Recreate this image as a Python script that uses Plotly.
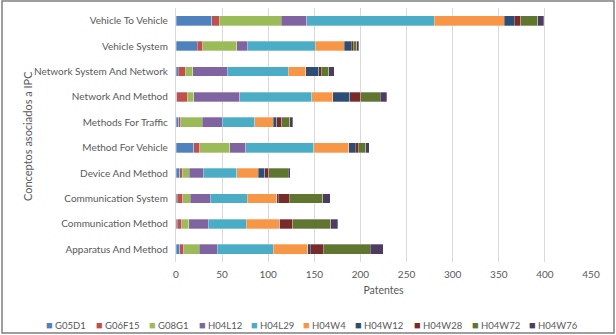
import plotly.graph_objects as go

categories = ["Apparatus And Method", "Communication Method", "Communication System",
              "Device And Method", "Method For Vehicle", "Methods For Traffic",
              "Network And Method", "Network System And Network", "Vehicle System",
              "Vehicle To Vehicle"]

G05D1  = [4, 1.5, 1.5, 4, 19.5, 3, 1, 2.5, 23, 39]
G06F15 = [4.5, 4.5, 5.7, 3, 6, 2.4, 11, 7.5, 6, 8]
G08G1  = [16.6, 8, 8.3, 7.6, 33, 23, 7, 8, 37, 67]
H04L12 = [19.5, 21, 21.7, 15, 17, 22, 50, 37.6, 11, 28]
H04L29 = [61, 41, 40, 36, 74, 35, 78, 66, 74, 138]
H04W4  = [37, 36, 31.8, 23.5, 37.6, 20, 23, 19, 31.5, 76]
H04W12 = [3, 0.6, 2, 7, 7, 4, 18.5, 14.4, 7.6, 11]
H04W28 = [14, 14, 12, 4.3, 3.6, 5.4, 12, 2.5, 2, 7]
H04W72 = [51, 41, 36, 21.4, 8, 8.7, 21, 8, 4, 18.5]
H04W76 = [14, 8, 8, 2, 4, 3, 7, 6, 2, 6]

series_names = ["G05D1", "G06F15", "G08G1", "H04L12", "H04L29",
                "H04W4", "H04W12", "H04W28", "H04W72", "H04W76"]
series_values = [G05D1, G06F15, G08G1, H04L12, H04L29, H04W4, H04W12, H04W28, H04W72, H04W76]
colors = ["#4F81BD", "#C0504D", "#9BBB59", "#8064A2", "#4BACC6",
          "#F79646", "#2C4D75", "#772C2A", "#5F7530", "#4D3B62"]

fig = go.Figure()
for name, vals, c in zip(series_names, series_values, colors):
    fig.add_trace(go.Bar(y=categories, x=vals, name=name, orientation="h",
                         marker=dict(color=c, line=dict(width=0.5, color="rgba(255,255,255,0.6)"))))

W, H = 616, 335
ml, mr, mt, mb = 176, 25, 8, 73
pw = W - ml - mr
ph = H - mt - mb

def px_x(x):
    return (x - ml) / pw

def px_y(y):
    return (H - mb - y) / ph

font_family = "Lato, Liberation Sans, Arial"
txt = "#595959"
fig.update_layout(
    width=W, height=H,
    barmode="stack",
    bargap=0.62,
    margin=dict(l=ml, r=mr, t=mt, b=mb, autoexpand=False),
    plot_bgcolor="white", paper_bgcolor="white",
    font=dict(family=font_family, size=10, color=txt),
    xaxis=dict(range=[0, 450], dtick=50, showgrid=True, gridcolor="#D9D9D9", gridwidth=1,
               zeroline=False, showline=False, ticks="", automargin=False,
               ticklabelstandoff=5,
               title=dict(text="Patentes", font=dict(size=10.5, color=txt), standoff=7),
               tickfont=dict(size=10, color=txt)),
    yaxis=dict(showgrid=False, showline=True, linecolor="#D9D9D9", ticks="",
               ticksuffix="  ", automargin=False,
               tickfont=dict(size=10, color=txt)),
    showlegend=False,
)

# y-axis title
fig.add_annotation(text="Conceptos asociados a IPC", xref="paper", yref="paper",
                   x=px_x(27), y=px_y(136), showarrow=False, textangle=-90,
                   font=dict(size=11, color=txt), xanchor="center", yanchor="middle")

# legend built from series names/colors
legend_x = [45, 95, 148, 198, 250, 302, 354, 413, 471, 528]
for name, c, lx in zip(series_names, colors, legend_x):
    fig.add_annotation(text=f"<span style='color:{c};font-size:11px'>■</span> {name}",
                       xref="paper", yref="paper",
                       x=px_x(lx - 1), y=px_y(324), showarrow=False, xanchor="left", yanchor="middle",
                       font=dict(size=9.5, color=txt))

# outer frame
fig.add_shape(type="rect", xref="paper", yref="paper",
              x0=px_x(2), x1=px_x(614), y0=px_y(333), y1=px_y(1),
              line=dict(color="#7F7F7F", width=1.5), fillcolor="rgba(0,0,0,0)", layer="below")

fig.write_html("out.html")
